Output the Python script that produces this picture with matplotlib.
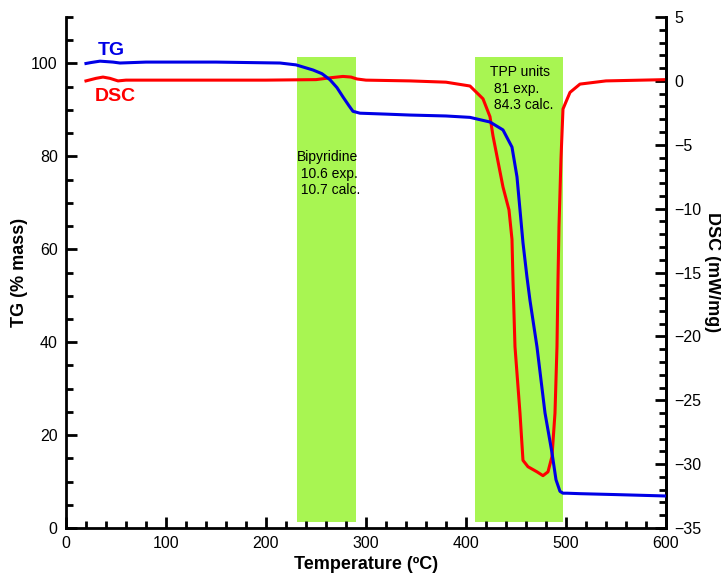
import matplotlib.pyplot as plt
from matplotlib.ticker import MultipleLocator

plt.rcParams['font.family'] = ['Liberation Sans', 'DejaVu Sans']

# TG curve (% mass) vs temperature
tg_t = [20, 25, 34, 47, 54, 80, 150, 214, 230, 247, 256, 264, 271, 277, 283, 287, 294,
        320, 344, 380, 404, 424, 437, 446, 451, 454, 457, 461, 464, 471, 479, 486, 490,
        494, 497, 501, 514, 550, 600]
tg_v = [100.0, 100.2, 100.5, 100.3, 100.1, 100.3, 100.3, 100.1, 99.7, 98.6, 97.8, 96.5, 94.8,
        92.8, 90.9, 89.7, 89.3, 89.1, 88.9, 88.7, 88.4, 87.4, 85.7, 82.0, 75.6, 68.5,
        61.4, 54.0, 49.0, 39.0, 24.8, 16.2, 10.4, 7.9, 7.5, 7.5, 7.4, 7.2, 6.9]

# DSC curve (mW/mg) vs temperature
dsc_t = [20, 25, 30, 37, 44, 52, 60, 100, 200, 250, 265, 277, 285, 291, 300, 344, 380,
         404, 417, 424, 427, 431, 437, 441, 443, 446, 447, 449, 454, 457, 462, 471, 477,
         482, 486, 489, 491, 492, 493, 495, 497, 504, 514, 540, 600]
dsc_v = [0.0, 0.1, 0.2, 0.3, 0.2, 0.0, 0.06, 0.06, 0.06, 0.1, 0.25, 0.35, 0.3, 0.15, 0.06,
         0.0, -0.1, -0.4, -1.4, -2.8, -4.3, -5.9, -8.3, -9.5, -10.1, -12.4, -15.6,
         -20.8, -26.0, -29.7, -30.2, -30.6, -30.9, -30.6, -29.4, -26.0, -20.8, -15.6,
         -11.4, -6.1, -2.2, -0.9, -0.25, 0.0, 0.1]

# shaded decomposition ranges (x) and their vertical extent in TG units
spans = [(231, 290), (409, 497)]
span_low, span_high = 1.3, 101.5
tg_max = 110

fig = plt.figure(figsize=(7.21, 5.79), dpi=100)
ax = fig.add_axes([0.0915, 0.088, 0.8322, 0.8826])
ax2 = ax.twinx()

for a, b in spans:
    ax2.axvspan(a, b, span_low / tg_max, span_high / tg_max, color='#a8f552', lw=0, zorder=0)

ax2.plot(dsc_t, dsc_v, color='#ff0000', lw=2.2, zorder=3)
ax.plot(tg_t, tg_v, color='#0000e6', lw=2.2, zorder=4)
ax.set_zorder(ax2.get_zorder() + 1)
ax.patch.set_visible(False)

ax.set_xlim(0, 600)
ax.set_ylim(0, tg_max)
ax2.set_ylim(-35, 5)

ax.xaxis.set_major_locator(MultipleLocator(100))
ax.xaxis.set_minor_locator(MultipleLocator(20))
ax.yaxis.set_major_locator(MultipleLocator(20))
ax.yaxis.set_minor_locator(MultipleLocator(5))
ax2.yaxis.set_major_locator(MultipleLocator(5))
ax2.yaxis.set_minor_locator(MultipleLocator(1))

for a in (ax, ax2):
    a.spines['top'].set_visible(False)
    for s in a.spines.values():
        s.set_linewidth(2)
    a.tick_params(which='major', direction='in', length=8, width=2, labelsize=11.5, pad=6)
    a.tick_params(which='minor', direction='in', length=5, width=2)
ax2.spines['left'].set_visible(False)
ax2.spines['bottom'].set_visible(False)

ax.set_xlabel('Temperature (ºC)', fontsize=13, fontweight='bold', labelpad=3)
ax.set_ylabel('TG (% mass)', fontsize=13, fontweight='bold', labelpad=2)
ax2.set_ylabel('DSC (mW/mg)', fontsize=13, fontweight='bold', rotation=270,
               ha='center', va='center')
ax2.yaxis.set_label_coords(1.077, 0.5)

ax.text(32, 101.8, 'TG', color='#0000e6', fontsize=14, fontweight='bold')
ax.text(29, 92.0, 'DSC', color='#ff0000', fontsize=14, fontweight='bold')
ax.text(231, 81.4, 'Bipyridine\n 10.6 exp.\n 10.7 calc.', fontsize=10, linespacing=1.25, va='top')
ax.text(424, 99.7, 'TPP units\n 81 exp.\n 84.3 calc.', fontsize=10, linespacing=1.25, va='top')

fig.savefig('out.png', dpi=100)
